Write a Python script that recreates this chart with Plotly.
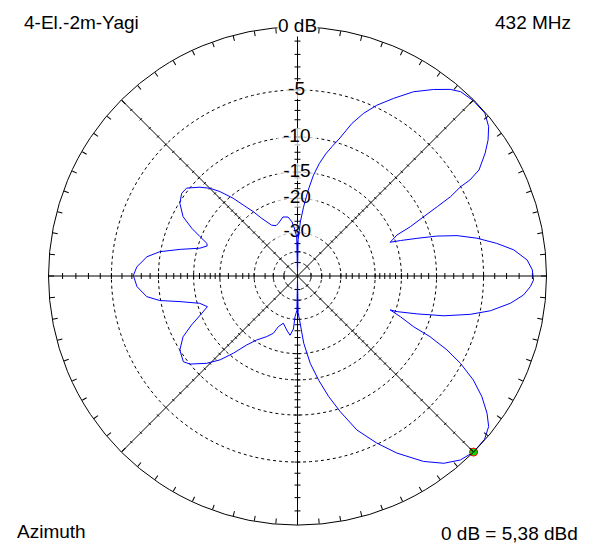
import math
import plotly.graph_objects as go

W, H = 595, 553          # reference picture size
PAD = 8                  # default page margin around the plot div
FW, FH = W - 2 * PAD, H - 2 * PAD
CX, CY, R = 297.5, 276, 249  # pattern centre and outer radius in picture pixels

# Azimuth pattern (compass degrees, relative gain in dB)
azimuth_deg = [
    0, 1, 3, 5, 7, 9, 11, 13, 15, 17.1, 19.6, 22.1, 24.9, 28.4, 32.2, 36.1,
    39.3, 41.5, 45, 49, 52, 54.5, 56.8, 59.7, 60.9, 61.3, 62.6, 63.6, 64.8,
    66.4, 67.6, 70, 71, 72.5, 74, 75.8, 78.1, 80.7, 83.1, 86, 88.5, 91, 92.6,
    94.8, 97.3, 100.2, 102.5, 105.2, 107.6, 109.7, 110.1, 111.6, 113.6, 114.6,
    116.3, 118.2, 120.6, 123.2, 125.9, 128.2, 131.1, 135, 138.5, 142, 145.8,
    150.7, 154.6, 158.9, 162.5, 165.5, 168.5, 171.7, 174.7, 176.4, 179, 180,
    181, 183.5, 184.4, 187.2, 191.3, 196.7, 200.7, 202.9, 206.9, 212.5, 216.4,
    219.7, 222.7, 226.1, 230.7, 233.1, 237.8, 242, 245.2, 248.7, 251.2, 254.4,
    257.7, 259.9, 262.2, 266.2, 270.2, 273.3, 277.3, 280, 282.8, 285.9, 288.4,
    289.8, 292, 294.3, 297.4, 301.7, 305.5, 308.4, 312.3, 315.1, 317.4, 320.4,
    322.6, 325.5, 328, 333, 337, 340, 346.2, 350.9, 354.2, 356.9, 358.8, 360,
]
gain_db = [
    -80, -33, -26.2, -22.0, -18.3, -15.3, -13.3, -11.8, -10.6, -9.35, -7.4,
    -6.0, -4.8, -3.6, -2.3, -1.3, -0.55, -0.2, -0.05, -0.05, -0.45, -1.06,
    -1.8, -2.9, -4.0, -5.0, -6.3, -8.0, -9.9, -12.1, -14.4, -15.9, -14.2,
    -11.8, -9.3, -7.1, -5.25, -3.6, -2.3, -1.35, -1.0, -0.92, -1.13, -1.6,
    -2.55, -4.1, -5.85, -8.5, -11.8, -14.7, -15.9, -13.9, -11.6, -9.2, -6.9,
    -5.1, -3.4, -2.1, -1.07, -0.4, -0.05, 0, -0.23, -0.8, -1.8, -3.5, -5.1,
    -7.05, -9.6, -11.9, -14.6, -17.8, -22.4, -27.5, -33, -80,
    -34, -31, -26.5, -24.5, -25.9, -27.8, -26.2, -23.8, -22.3, -20.4, -18.3,
    -15.6, -13.4, -11.7, -10.0, -9.55, -10.0, -11.2, -13.0, -15.2, -16.5,
    -15.4, -12.5, -9.9, -8.45, -7.5, -7.15, -7.5, -8.5, -9.9, -12.5, -15.4,
    -16.5, -16.3, -14.8, -13.1, -11.3, -10.1, -9.6, -9.7, -10.9, -12.0, -13.3,
    -15.5, -17.6, -19.9, -22.2, -25.3, -26.0, -25.6, -24.2, -24.5, -26.1,
    -29.0, -31.7, -80,
]

ring_db = [-5, -10, -15, -20, -30, -40, -50]
label_db = [-5, -10, -15, -20, -30]
spoke_deg = [0, 45, 90, 135]
tick_db = list(range(-1, -21, -1)) + [-22, -24, -26, -28, -30, -35, -40, -50]
peak_deg, peak_db = 135, 0.0


def rho(db):
    # ARRL log-periodic scale: radius shrinks by 0.89 every 2 dB
    return 0.89 ** (-db / 2)


def px(x, y):
    # picture pixel -> paper fraction of the (padded) figure
    return (x - PAD) / FW, 1 - (y - PAD) / FH


fnt = dict(family="Liberation Sans, Arial, sans-serif", size=19, color="black")

fig = go.Figure()

# dashed dB rings
ring_theta = list(range(0, 361, 2))
for d in ring_db:
    fig.add_trace(go.Scatterpolar(
        r=[rho(d)] * len(ring_theta), theta=ring_theta, mode="lines",
        line=dict(color="black", width=1, dash="3px,3px"), hoverinfo="skip"))

# solid spokes
for a in spoke_deg:
    fig.add_trace(go.Scatterpolar(
        r=[1, 0, 1], theta=[a, a, a + 180], mode="lines",
        line=dict(color="black", width=1), hoverinfo="skip"))

# small ticks across the spokes
tr, tt = [], []
for a in range(0, 360, 45):
    half = 3 if a % 90 == 0 else 1.5
    for d in tick_db:
        r = rho(d)
        dt = math.degrees(math.atan(half / (r * R)))
        rr = r / math.cos(math.radians(dt))
        tr += [rr, rr, None]
        tt += [a - dt, a + dt, None]
fig.add_trace(go.Scatterpolar(r=tr, theta=tt, mode="lines",
                              line=dict(color="black", width=1), hoverinfo="skip"))

# dB scale labels on white patches (below the pattern line, as in the original)
lab_r = [rho(d) for d in label_db]
lab_t = [-0.3] * len(label_db)
fig.add_trace(go.Scatterpolar(
    r=lab_r, theta=lab_t, mode="markers", hoverinfo="skip",
    marker=dict(symbol="line-ew", size=[19 if d > -10 else 29 for d in label_db],
                line=dict(color="white", width=18))))
fig.add_trace(go.Scatterpolar(
    r=lab_r, theta=lab_t, mode="text", text=[str(d) for d in label_db],
    textposition="middle center", textfont=fnt, hoverinfo="skip"))

# pattern
fig.add_trace(go.Scatterpolar(
    r=[rho(d) for d in gain_db], theta=azimuth_deg, mode="lines",
    line=dict(color="#0000ff", width=1)))

# maximum marker
fig.add_trace(go.Scatterpolar(
    r=[rho(peak_db)], theta=[peak_deg], mode="markers",
    marker=dict(size=8, color="#00dd00", line=dict(color="red", width=1))))

ann = []
for text, x, y in [("4-El.-2m-Yagi", 22, 22.5), ("432 MHz", 493, 22.5),
                   ("Azimuth", 15, 531.5), ("0 dB = 5,38 dBd", 439, 533.5)]:
    ax, ay = px(x, y)
    ann.append(dict(text=text, x=ax, y=ay, xref="paper", yref="paper",
                    xanchor="left", yanchor="middle", showarrow=False, font=fnt))

ax, ay = px(CX, 26)
ann.append(dict(text="0 dB", x=ax, y=ay, xref="paper", yref="paper",
                xanchor="center", yanchor="middle", showarrow=False, font=fnt,
                bgcolor="white", borderpad=0))

x0, y1 = px(CX - R, CY - R)
x1, y0 = px(CX + R, CY + R)
fig.update_layout(
    width=FW, height=FH, margin=dict(l=0, r=0, t=0, b=0),
    paper_bgcolor="white", showlegend=False, annotations=ann,
    polar=dict(
        domain=dict(x=[x0, x1], y=[y0, y1]),
        bgcolor="white",
        radialaxis=dict(range=[0, 1], visible=False),
        angularaxis=dict(rotation=90, direction="clockwise", showgrid=False,
                         showline=True, linecolor="black", linewidth=1,
                         ticks="inside", ticklen=5, tickcolor="black",
                         tickmode="linear", tick0=0, dtick=5,
                         showticklabels=False),
    ),
)

fig.write_html("out.html")
